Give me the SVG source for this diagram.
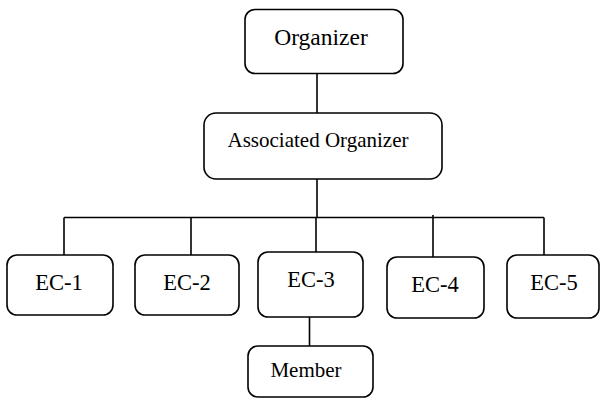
<svg xmlns="http://www.w3.org/2000/svg" width="601" height="398" viewBox="0 0 601 398">
  <style>
    .box { fill: #ffffff; stroke: #000000; stroke-width: 1.6; }
    .link { fill: none; stroke: #000000; stroke-width: 1.6; }
    .lbl { font-family: "Liberation Serif", "Times New Roman", serif; fill: #000000; text-anchor: middle; }
  </style>
  <rect width="601" height="398" fill="#ffffff"/>

  <!-- connectors -->
  <g id="connectors">
    <line class="link" x1="317" y1="73" x2="317" y2="113"/>
    <line class="link" x1="317" y1="179" x2="317" y2="217.5"/>
    <line class="link" x1="64" y1="217.5" x2="544" y2="217.5"/>
    <line class="link" x1="64" y1="217.5" x2="64" y2="255"/>
    <line class="link" x1="191" y1="217.5" x2="191" y2="255"/>
    <line class="link" x1="316" y1="217.5" x2="316" y2="252"/>
    <line class="link" x1="433" y1="215" x2="433" y2="257"/>
    <line class="link" x1="544" y1="217.5" x2="544" y2="255"/>
    <line class="link" x1="309.5" y1="317" x2="309.5" y2="346"/>
  </g>

  <g id="organizer">
    <rect class="box" x="245" y="9.5" width="158" height="64" rx="10"/>
    <text class="lbl" x="321" y="45" font-size="23.5">Organizer</text>
  </g>

  <g id="associated-organizer">
    <rect class="box" x="204" y="113" width="238" height="66" rx="12"/>
    <text class="lbl" x="318" y="147" font-size="21">Associated Organizer</text>
  </g>

  <g id="ec-1">
    <rect class="box" x="7" y="255" width="106" height="60" rx="10"/>
    <text class="lbl" x="59" y="290" font-size="22.5">EC-1</text>
  </g>

  <g id="ec-2">
    <rect class="box" x="135" y="255" width="104" height="60" rx="10"/>
    <text class="lbl" x="187" y="290" font-size="22.5">EC-2</text>
  </g>

  <g id="ec-3">
    <rect class="box" x="258" y="252" width="105" height="65" rx="10"/>
    <text class="lbl" x="311" y="287" font-size="22.5">EC-3</text>
  </g>

  <g id="ec-4">
    <rect class="box" x="387" y="257" width="97" height="61" rx="10"/>
    <text class="lbl" x="435" y="292" font-size="22.5">EC-4</text>
  </g>

  <g id="ec-5">
    <rect class="box" x="507" y="255" width="92" height="63" rx="10"/>
    <text class="lbl" x="554" y="290" font-size="22.5">EC-5</text>
  </g>

  <g id="member">
    <rect class="box" x="248" y="346" width="125" height="51" rx="10"/>
    <text class="lbl" x="306" y="377" font-size="21">Member</text>
  </g>
</svg>
